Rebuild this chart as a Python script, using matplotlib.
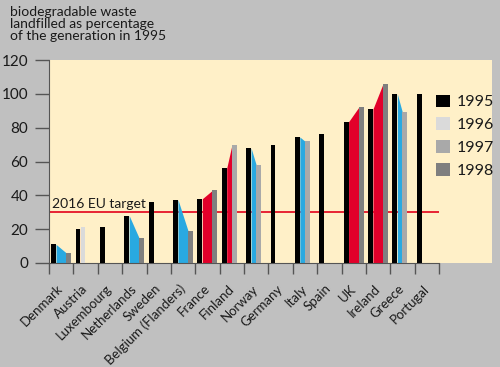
import numpy as np
import matplotlib
matplotlib.use("Agg")
import matplotlib.pyplot as plt
from matplotlib.patches import Patch

# data (biodegradable waste landfilled, % of 1995 generation)
countries = ["Denmark", "Austria", "Luxembourg", "Netherlands", "Sweden",
             "Belgium (Flanders)", "France", "Finland", "Norway", "Germany",
             "Italy", "Spain", "UK", "Ireland", "Greece", "Portugal"]
v1995 = [11, 20, 21, 28, 36, 37.5, 38, 56, 68, 70, 74.5, 76, 83.5, 91, 100, 100]
v1996 = [np.nan, 21, np.nan, np.nan, np.nan, np.nan, np.nan, np.nan, np.nan,
         np.nan, np.nan, np.nan, np.nan, np.nan, np.nan, np.nan]
v1997 = [np.nan, np.nan, np.nan, np.nan, np.nan, np.nan, np.nan, 69.5, 58,
         np.nan, 72, np.nan, np.nan, np.nan, 89, np.nan]
v1998 = [6, np.nan, np.nan, 14.5, np.nan, 19, 43, np.nan, np.nan,
         np.nan, np.nan, np.nan, 92, 106, np.nan, np.nan]
years = ["1995", "1996", "1997", "1998"]
eu_target = 30

# styling
bg = "#c0c0c0"
plot_bg = "#fff0c8"
bar_colors = ["#000000", "#dadada", "#a9a9a9", "#7f7f7f"]
up_color = "#e2002a"
down_color = "#29a9e1"
font = ["Lato", "DejaVu Sans"]
plt.rcParams["font.family"] = font
text_color = "#1a1a1a"

fig = plt.figure(figsize=(5, 3.67), dpi=100, facecolor=bg)
ax = fig.add_axes([49 / 500, 104 / 367, 443 / 500, 203 / 367])
ax.set_facecolor(plot_bg)

n = len(countries)
x = np.arange(n)
offset = 0.09
slot = 0.205
width = 0.2

series = [v1995, v1996, v1997, v1998]
for j, vals in enumerate(series):
    ax.bar(x + offset + j * slot, vals, width=width, align="edge",
           color=bar_colors[j], zorder=3, linewidth=0)

# shaded change between 1995 and the latest available year
for i in range(n):
    for j in (3, 2, 1):
        if not np.isnan(series[j][i]):
            x0 = x[i] + offset + width
            x1 = x[i] + offset + j * slot
            y0, y1 = v1995[i], series[j][i]
            c = up_color if y1 > y0 else down_color
            ax.fill_between([x0, x1], [y0, y1], 0, color=c, lw=0, zorder=2)
            break

ax.hlines(eu_target, 0, n, color="#e3001b", lw=1.2, zorder=1)
ax.text(0.12, eu_target + 1.5, "2016 EU target", fontsize=10,
        color=text_color, va="bottom", ha="left", zorder=1)

ax.set_xlim(0, 443 / (390 / n))
ax.set_ylim(0, 120)
ax.set_yticks(np.arange(0, 121, 20))
ax.set_xticks(np.arange(0, n + 1))
ax.set_xticklabels([])
ax.set_xticks(x + 0.5, minor=True)
ax.set_xticklabels(countries, minor=True, rotation=45, ha="right",
                   va="center", rotation_mode="anchor", fontsize=9.5,
                   color=text_color)
ax.tick_params(axis="x", which="minor", length=0, pad=17)
ax.tick_params(axis="x", which="major", length=8, color="#555555", width=1)
ax.tick_params(axis="y", length=10, color="#555555", width=1,
               labelsize=11, labelcolor=text_color, pad=5)

for s in ("top", "right"):
    ax.spines[s].set_visible(False)
ax.spines["left"].set_color("#555555")
ax.spines["bottom"].set_color("#555555")
ax.spines["bottom"].set_bounds(0, n)

handles = [Patch(facecolor=c, edgecolor="none") for c in bar_colors]
ax.legend(handles, years, loc="upper left", bbox_to_anchor=(0.8736, 0.83),
          frameon=False, fontsize=11.5, handlelength=0.85, handleheight=0.85,
          handletextpad=0.45, labelspacing=0.5, borderpad=0, borderaxespad=0,
          labelcolor=text_color)

fig.text(0.02, 0.985,
         "biodegradable waste\nlandfilled as percentage\nof the generation in 1995",
         fontsize=10, va="top", ha="left", linespacing=1.0, color=text_color)

fig.savefig("out.png", dpi=100, facecolor=bg)
